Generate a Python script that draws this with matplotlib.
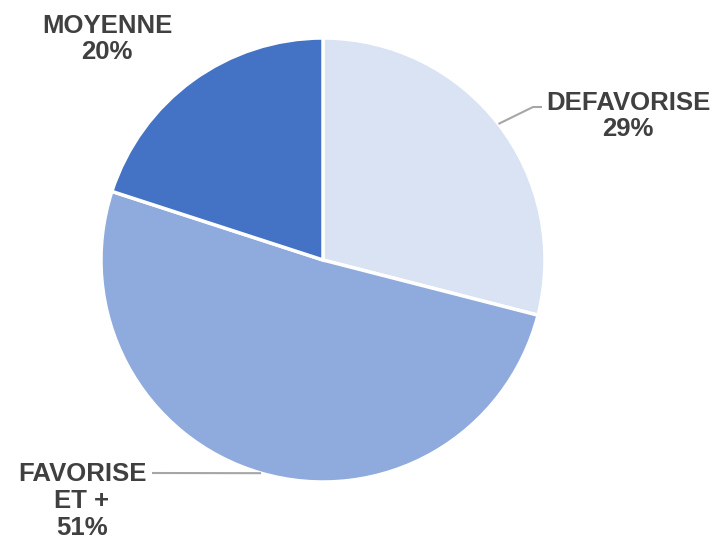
import numpy as np
import matplotlib.pyplot as plt

labels = ["DEFAVORISE", "FAVORISE\nET +", "MOYENNE"]
shares = [29, 51, 20]
colors = ["#dae3f3", "#8faadc", "#4472c4"]

plt.rcParams['font.family'] = ['Liberation Sans', 'DejaVu Sans']

fig = plt.figure(figsize=(7.22, 5.44), dpi=100)
ax = fig.add_axes([0, 0, 1, 1])

cx, cy, r = 323, 284, 222
wedges, _ = ax.pie(shares, colors=colors, startangle=90, counterclock=False,
                   center=(cx, cy), radius=r, frame=True,
                   wedgeprops=dict(edgecolor='white', linewidth=2.5))
ax.set_xlim(0, 722)
ax.set_ylim(0, 544)
ax.set_aspect('equal')
ax.axis('off')

# label positions (text centre) and leader line elbows
text_pos = [(628, 428), (82, 43), (107, 505)]
elbows = [[(533, 437), (542, 437)], [(152, 71)], None]
txt_col = "#404040"
line_col = "#a6a6a6"

for w, lab, val, pos, elb in zip(wedges, labels, shares, text_pos, elbows):
    mid = np.deg2rad((w.theta1 + w.theta2) / 2)
    px, py = cx + r * np.cos(mid), cy + r * np.sin(mid)
    if elb is not None:
        xs = [px] + [e[0] for e in elb]
        ys = [py] + [e[1] for e in elb]
        ax.plot(xs, ys, color=line_col, lw=1.5, solid_capstyle='butt')
    ax.text(pos[0], pos[1], f"{lab}\n{val}%", ha='center', va='center',
            fontsize=18.5, fontweight='bold', color=txt_col, linespacing=1.15)

fig.savefig("out.png", dpi=100)
